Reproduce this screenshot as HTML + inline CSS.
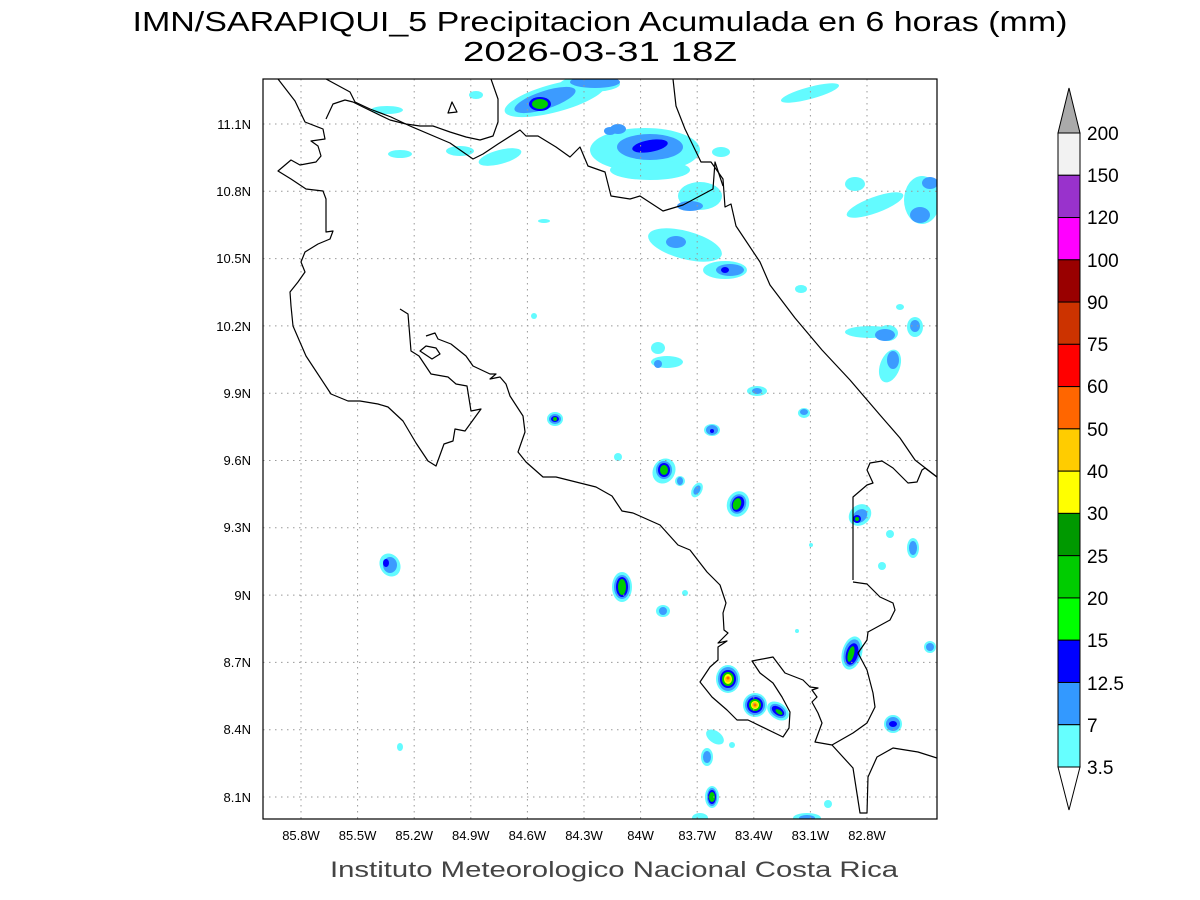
<!DOCTYPE html>
<html><head><meta charset="utf-8"><style>
html,body{margin:0;padding:0;background:#fff;width:1200px;height:900px;overflow:hidden}
svg{display:block}
text{font-family:"Liberation Sans",sans-serif;fill:#000}
</style></head><body>
<svg width="1200" height="900" viewBox="0 0 1200 900" xmlns="http://www.w3.org/2000/svg">
<rect width="1200" height="900" fill="#fff"/>
<text x="600" y="31" font-size="28" text-anchor="middle" textLength="935" lengthAdjust="spacingAndGlyphs">IMN/SARAPIQUI_5 Precipitacion Acumulada en 6 horas (mm)</text>
<text x="600" y="61" font-size="28" text-anchor="middle" textLength="274" lengthAdjust="spacingAndGlyphs">2026-03-31 18Z</text>

<clipPath id="c"><rect x="263" y="79" width="674" height="740"/></clipPath>
<g clip-path="url(#c)">
<g fill="#63fbff">
<ellipse cx="555" cy="98" rx="52" ry="14" transform="rotate(-15 555 98)"/>
<ellipse cx="590" cy="84" rx="30" ry="8"/>
<ellipse cx="645" cy="150" rx="55" ry="22"/>
<ellipse cx="650" cy="170" rx="40" ry="10"/>
<ellipse cx="700" cy="196" rx="22" ry="14"/>
<ellipse cx="685" cy="245" rx="38" ry="14" transform="rotate(15 685 245)"/>
<ellipse cx="725" cy="270" rx="22" ry="9"/>
<ellipse cx="400" cy="154" rx="12" ry="4"/><ellipse cx="460" cy="151" rx="14" ry="5"/><ellipse cx="500" cy="157" rx="22" ry="7" transform="rotate(-15 500 157)"/>
<ellipse cx="387" cy="110" rx="16" ry="4"/><ellipse cx="476" cy="95" rx="7" ry="4"/>
<ellipse cx="721" cy="152" rx="9" ry="5"/>
<ellipse cx="810" cy="93" rx="30" ry="6" transform="rotate(-15 810 93)"/>
<ellipse cx="855" cy="184" rx="10" ry="7"/><ellipse cx="875" cy="205" rx="30" ry="8" transform="rotate(-20 875 205)"/>
<ellipse cx="922" cy="200" rx="18" ry="24"/>
<ellipse cx="870" cy="332" rx="25" ry="6"/><ellipse cx="888" cy="333" rx="10" ry="8"/><ellipse cx="890" cy="366" rx="10" ry="17" transform="rotate(20 890 366)"/><ellipse cx="915" cy="327" rx="8" ry="10"/>
<ellipse cx="900" cy="307" rx="4" ry="3"/><ellipse cx="801" cy="289" rx="6" ry="4"/>
<ellipse cx="658" cy="348" rx="7" ry="6"/><ellipse cx="667" cy="362" rx="16" ry="6"/>
<ellipse cx="555" cy="419" rx="8" ry="7"/>
<ellipse cx="712" cy="430" rx="8" ry="6"/><ellipse cx="757" cy="391" rx="10" ry="5"/><ellipse cx="804" cy="413" rx="6" ry="5"/>
<ellipse cx="618" cy="457" rx="4" ry="4"/><ellipse cx="664" cy="471" rx="11" ry="13" transform="rotate(30 664 471)"/><ellipse cx="680" cy="481" rx="5" ry="5"/><ellipse cx="697" cy="490" rx="5" ry="8" transform="rotate(30 697 490)"/>
<ellipse cx="738" cy="504" rx="11" ry="13" transform="rotate(20 738 504)"/>
<ellipse cx="860" cy="515" rx="12" ry="10" transform="rotate(-40 860 515)"/>
<ellipse cx="913" cy="548" rx="6" ry="10"/><ellipse cx="890" cy="534" rx="4" ry="4"/><ellipse cx="882" cy="566" rx="4" ry="4"/>
<ellipse cx="390" cy="565" rx="10" ry="12" transform="rotate(-30 390 565)"/>
<ellipse cx="622" cy="587" rx="10" ry="15"/><ellipse cx="663" cy="611" rx="7" ry="6"/><ellipse cx="685" cy="593" rx="3" ry="3"/>
<ellipse cx="852" cy="653" rx="10" ry="17" transform="rotate(15 852 653)"/>
<ellipse cx="930" cy="647" rx="6" ry="6"/>
<ellipse cx="728" cy="679" rx="12" ry="14"/><ellipse cx="755" cy="705" rx="12" ry="12"/><ellipse cx="778" cy="711" rx="12" ry="8" transform="rotate(35 778 711)"/>
<ellipse cx="893" cy="724" rx="9" ry="9"/>
<ellipse cx="715" cy="737" rx="10" ry="6" transform="rotate(35 715 737)"/><ellipse cx="732" cy="745" rx="3" ry="3"/>
<ellipse cx="707" cy="757" rx="6" ry="9"/><ellipse cx="712" cy="797" rx="7" ry="11"/>
<ellipse cx="700" cy="818" rx="8" ry="5"/><ellipse cx="807" cy="818" rx="14" ry="5"/><ellipse cx="828" cy="804" rx="4" ry="4"/>
<ellipse cx="400" cy="747" rx="3" ry="4"/><ellipse cx="797" cy="631" rx="2" ry="2"/>
<ellipse cx="544" cy="221" rx="6" ry="2"/><ellipse cx="534" cy="316" rx="3" ry="3"/><ellipse cx="811" cy="545" rx="2" ry="2"/>
</g>
<g fill="#3c9bff">
<ellipse cx="545" cy="100" rx="32" ry="9" transform="rotate(-18 545 100)"/>
<ellipse cx="595" cy="82" rx="25" ry="6"/>
<ellipse cx="610" cy="131" rx="6" ry="4"/>
<ellipse cx="650" cy="147" rx="33" ry="13"/><ellipse cx="618" cy="129" rx="8" ry="5"/>
<ellipse cx="690" cy="206" rx="13" ry="5"/>
<ellipse cx="676" cy="242" rx="10" ry="6"/>
<ellipse cx="730" cy="270" rx="14" ry="6"/>
<ellipse cx="920" cy="215" rx="10" ry="8"/><ellipse cx="930" cy="183" rx="8" ry="6"/>
<ellipse cx="885" cy="335" rx="10" ry="6"/><ellipse cx="893" cy="360" rx="6" ry="9"/><ellipse cx="915" cy="326" rx="5" ry="6"/>
<ellipse cx="658" cy="364" rx="4" ry="4"/>
<ellipse cx="555" cy="419" rx="6" ry="5"/><ellipse cx="712" cy="430" rx="6" ry="5"/><ellipse cx="757" cy="391" rx="5" ry="3"/><ellipse cx="804" cy="412" rx="4" ry="3"/>
<ellipse cx="664" cy="470" rx="8" ry="9"/><ellipse cx="680" cy="481" rx="3" ry="4"/><ellipse cx="697" cy="490" rx="3" ry="5" transform="rotate(30 697 490)"/>
<ellipse cx="738" cy="504" rx="8" ry="10" transform="rotate(20 738 504)"/>
<ellipse cx="860" cy="516" rx="8" ry="6" transform="rotate(-40 860 516)"/>
<ellipse cx="913" cy="548" rx="4" ry="7"/>
<ellipse cx="390" cy="565" rx="7" ry="8"/>
<ellipse cx="622" cy="587" rx="8" ry="12"/><ellipse cx="663" cy="611" rx="4" ry="4"/>
<ellipse cx="852" cy="653" rx="8" ry="14" transform="rotate(15 852 653)"/>
<ellipse cx="930" cy="647" rx="4" ry="4"/>
<ellipse cx="728" cy="679" rx="10" ry="12"/><ellipse cx="755" cy="705" rx="10" ry="10"/><ellipse cx="778" cy="711" rx="9" ry="6" transform="rotate(35 778 711)"/>
<ellipse cx="893" cy="724" rx="7" ry="7"/>
<ellipse cx="707" cy="757" rx="4" ry="6"/><ellipse cx="712" cy="797" rx="5" ry="9"/>
<ellipse cx="807" cy="818" rx="8" ry="3"/>
</g>
<g fill="#0000ff">
<ellipse cx="540" cy="104" rx="11" ry="7"/>
<ellipse cx="650" cy="146" rx="18" ry="6" transform="rotate(-10 650 146)"/>
<ellipse cx="725" cy="270" rx="4" ry="3"/>
<ellipse cx="555" cy="419" rx="4" ry="3"/><ellipse cx="712" cy="431" rx="2" ry="2"/>
<ellipse cx="664" cy="470" rx="6" ry="7"/><ellipse cx="738" cy="504" rx="6" ry="8" transform="rotate(20 738 504)"/>
<ellipse cx="857" cy="519" rx="4" ry="4"/><ellipse cx="386" cy="563" rx="3" ry="4"/>
<ellipse cx="622" cy="587" rx="6" ry="10"/><ellipse cx="852" cy="654" rx="6" ry="11" transform="rotate(15 852 654)"/>
<ellipse cx="728" cy="679" rx="8" ry="9"/><ellipse cx="755" cy="705" rx="8" ry="8"/><ellipse cx="778" cy="711" rx="7" ry="4" transform="rotate(35 778 711)"/>
<ellipse cx="893" cy="724" rx="4" ry="3"/><ellipse cx="712" cy="797" rx="4" ry="7"/>
</g>
<g fill="#00cc00">
<ellipse cx="540" cy="104" rx="8" ry="5"/>
<ellipse cx="555" cy="419" rx="2" ry="2"/>
<ellipse cx="664" cy="470" rx="4" ry="5"/><ellipse cx="737" cy="504" rx="4" ry="6" transform="rotate(20 737 504)"/>
<ellipse cx="857" cy="519" rx="2" ry="2"/>
<ellipse cx="622" cy="587" rx="4" ry="8"/><ellipse cx="851" cy="654" rx="3" ry="8" transform="rotate(15 851 654)"/>
<ellipse cx="728" cy="679" rx="6" ry="7"/><ellipse cx="755" cy="705" rx="6" ry="6"/><ellipse cx="779" cy="712" rx="4" ry="2" transform="rotate(35 779 712)"/>
<ellipse cx="712" cy="797" rx="3" ry="5"/>
</g>
<g fill="#ffff00"><ellipse cx="728" cy="679" rx="4" ry="5"/><ellipse cx="755" cy="705" rx="4" ry="4"/></g>
<g fill="#ffc800"><ellipse cx="728" cy="679" rx="3" ry="3"/><ellipse cx="755" cy="705" rx="3" ry="3"/></g>
<g fill="#ff6400"><circle cx="728" cy="678" r="1.5"/><circle cx="755" cy="705" r="1.5"/></g>

<g stroke="#999" stroke-width="1" stroke-dasharray="1.5,4.5" fill="none">
<path d="M301 79V819M357.6 79V819M414.2 79V819M470.8 79V819M527.4 79V819M584 79V819M640.6 79V819M697.2 79V819M753.8 79V819M810.4 79V819M867 79V819"/>
<path d="M263 124H937M263 191.3H937M263 258.6H937M263 325.9H937M263 393.2H937M263 460.5H937M263 527.8H937M263 595.1H937M263 662.4H937M263 729.7H937M263 797H937"/>
</g>

<g stroke="#000" stroke-width="1.2" fill="none" stroke-linejoin="round">
<path d="M278 79L295 101L305 122L323 129L325 139L311 141L318 146L321 156L316 162L300 165L291 160L278 171L291 179L306 189L323 191L326 199L326 232L333 231L330 239L318 244L305 252L301 262L305 272L298 282L290 292L291 306L293 326L306 356L331 394L348 401L360 401L378 404L388 407L403 421L416 443L428 461L436 466L444 444L453 441L455 429L465 431L481 409L471 411L467 386L456 384L448 377L431 374L419 356L411 351L408 314L400 309"/>
<path d="M420 351L426 346L436 348L440 354L432 359Z"/>
<path d="M448 113L452 102L457 112Z"/>
<path d="M426 336L435 333L438 339L451 344L466 356L473 366L490 374L496 374L490 379L500 377L506 384L510 396L523 416L525 432L518 452L526 462L543 477L556 477L576 482L596 487L612 496L622 511L633 513L660 525L678 545L690 550L707 572L720 585L726 603L723 613L724 630L728 633L718 643L727 641L718 647L718 660L710 667L700 682L712 697L727 710L737 720L748 720L783 737L789 728L790 712L782 697L773 683L760 673L752 661L773 657L785 673L803 680L810 687L818 688L812 690L817 697L812 702L818 713L822 723L815 742L832 745L853 768L860 813L867 813L868 777L877 757L893 748L918 752L937 758"/>
<path d="M326 119L333 104L345 100L353 102L363 107L390 120L406 124L420 126L433 126L450 132L466 137L480 140L493 136L498 122L498 99L491 79"/>
<path d="M326 79L350 92L355 102L370 109L391 117L410 126L450 143L473 159L483 154L498 144L520 130L526 136L538 136L556 147L570 157L580 147L588 166L605 172L611 196L630 199L640 196L663 211L683 205L713 189L715 162L723 186"/>
<path d="M673 79L676 106L685 129L701 162L711 162L723 179L725 207L731 204L736 226L760 262L770 285L795 318L822 350L850 380L880 415L900 438L915 460L937 477"/>
<path d="M853 580L853 497L867 485L873 483L867 470L870 463L882 461L893 468L908 483L917 482L922 470L925 468L937 477"/>
<path d="M853 582L867 584L880 597L893 603L895 610L890 620L868 632L867 640L858 653L867 670L873 693L875 707L867 723L853 733L832 745"/>
</g>
</g>
<rect x="263" y="79" width="674" height="740" fill="none" stroke="#000" stroke-width="1.2"/>

<g font-size="13" text-anchor="middle">
<text x="301" y="840">85.8W</text><text x="357.6" y="840">85.5W</text><text x="414.2" y="840">85.2W</text><text x="470.8" y="840">84.9W</text><text x="527.4" y="840">84.6W</text><text x="584" y="840">84.3W</text><text x="640.6" y="840">84W</text><text x="697.2" y="840">83.7W</text><text x="753.8" y="840">83.4W</text><text x="810.4" y="840">83.1W</text><text x="867" y="840">82.8W</text>
</g>
<g font-size="13" text-anchor="end">
<text x="251" y="129">11.1N</text><text x="251" y="196">10.8N</text><text x="251" y="263">10.5N</text><text x="251" y="331">10.2N</text><text x="251" y="398">9.9N</text><text x="251" y="465">9.6N</text><text x="251" y="532">9.3N</text><text x="251" y="600">9N</text><text x="251" y="667">8.7N</text><text x="251" y="734">8.4N</text><text x="251" y="802">8.1N</text>
</g>
<text x="614" y="877" font-size="22" text-anchor="middle" textLength="568" lengthAdjust="spacingAndGlyphs" style="fill:#444">Instituto Meteorologico Nacional Costa Rica</text>

<g stroke="#000" stroke-width="1">
<polygon points="1058,133 1080,133 1069,88" fill="#aaaaaa"/>
<rect x="1058" y="133" width="22" height="42.27" fill="#f2f2f2"/>
<rect x="1058" y="175.27" width="22" height="42.27" fill="#9932cc"/>
<rect x="1058" y="217.53" width="22" height="42.27" fill="#ff00ff"/>
<rect x="1058" y="259.8" width="22" height="42.27" fill="#990000"/>
<rect x="1058" y="302.07" width="22" height="42.27" fill="#cc3300"/>
<rect x="1058" y="344.33" width="22" height="42.27" fill="#ff0000"/>
<rect x="1058" y="386.6" width="22" height="42.27" fill="#ff6600"/>
<rect x="1058" y="428.87" width="22" height="42.27" fill="#ffcc00"/>
<rect x="1058" y="471.13" width="22" height="42.27" fill="#ffff00"/>
<rect x="1058" y="513.4" width="22" height="42.27" fill="#009900"/>
<rect x="1058" y="555.67" width="22" height="42.27" fill="#00cc00"/>
<rect x="1058" y="597.93" width="22" height="42.27" fill="#00ff00"/>
<rect x="1058" y="640.2" width="22" height="42.27" fill="#0000ff"/>
<rect x="1058" y="682.47" width="22" height="42.27" fill="#3399ff"/>
<rect x="1058" y="724.73" width="22" height="42.27" fill="#66ffff"/>
<polygon points="1058,767 1080,767 1069,810" fill="#fff"/>
</g>
<g font-size="19">
<text x="1087" y="140">200</text><text x="1087" y="182">150</text><text x="1087" y="224">120</text><text x="1087" y="267">100</text><text x="1087" y="309">90</text><text x="1087" y="351">75</text><text x="1087" y="393">60</text><text x="1087" y="436">50</text><text x="1087" y="478">40</text><text x="1087" y="520">30</text><text x="1087" y="563">25</text><text x="1087" y="605">20</text><text x="1087" y="647">15</text><text x="1087" y="690">12.5</text><text x="1087" y="732">7</text><text x="1087" y="774">3.5</text>
</g>
</svg>
</body></html>
